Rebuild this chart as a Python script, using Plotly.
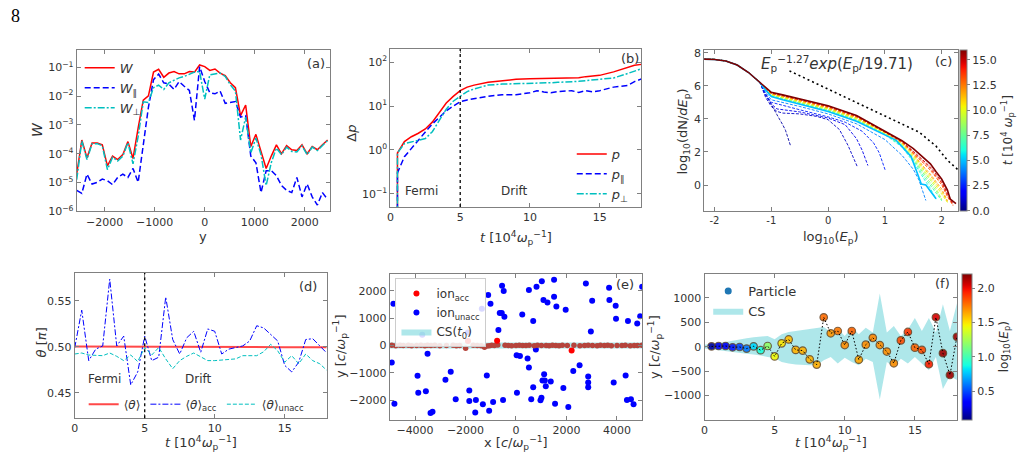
import plotly.graph_objects as go
import numpy as np

# ------------------------------------------------------------------ data
# (a) energy density profiles across the current sheet
A_Y = [-2560, -2458, -2355, -2253, -2150, -2048, -1946, -1843, -1741, -1638,
       -1536, -1434, -1331, -1229, -1126, -1024, -922, -819, -717, -614,
       -512, -410, -307, -205, -102, 0, 102, 205, 307, 410,
       512, 614, 717, 819, 922, 1024, 1126, 1229, 1331, 1434,
       1536, 1638, 1741, 1843, 1946, 2048, 2150, 2253, 2355, 2458]
W_TOT = [1.95e-5, 3.0e-4, 7.2e-5, 2.34e-4, 2.34e-4, 2.04e-4, 3.8e-5, 8.3e-5, 6.3e-5, 9.3e-5,
         2.63e-4, 6.9e-5, 7.9e-4, 7.2e-3, 1.02e-2, 6.8e-2, 8.5e-2, 4.5e-2, 6.3e-2, 7.1e-2,
         5.9e-2, 5.9e-2, 7.1e-2, 6.8e-2, 1.2e-1, 1.05e-1, 7.8e-2, 8.7e-2, 6.3e-2, 5.1e-2,
         2.9e-2, 1.95e-2, 2.1e-3, 4.9e-3, 1.78e-4, 4.7e-4, 1.2e-4, 3.1e-5, 8.3e-5, 2.04e-4,
         1.0e-4, 1.9e-4, 1.38e-4, 1.29e-4, 2.04e-4, 1.0e-4, 1.78e-4, 1.38e-4, 2.04e-4, 3.0e-4]
W_PAR = [5.4e-6, 4.2e-6, 1.95e-5, 8.9e-6, 1.02e-5, 1.32e-5, 1.17e-5, 8.5e-6, 1.51e-5, 1.95e-5,
         1.51e-5, 3.1e-5, 1.02e-5, 2.34e-4, 4.1e-3, 3.7e-2, 5.8e-2, 2.9e-2, 2.6e-2, 1.7e-2,
         3.2e-2, 2.2e-2, 1.58e-2, 1.45e-3, 1.05e-1, 3.2e-2, 1.32e-2, 1.2e-2, 1.5e-2, 5.6e-3,
         6.0e-3, 6.5e-3, 1.86e-3, 2.1e-3, 8.3e-5, 4.9e-5, 4.5e-6, 2.6e-5, 2.6e-5, 1.74e-5,
         7.9e-6, 5.4e-6, 4.5e-6, 1.51e-5, 3.2e-6, 8.9e-6, 3.2e-6, 1.66e-6, 4.5e-6, 2.6e-6]
W_PERP = [1.26e-5, 2.8e-4, 6.3e-5, 2.24e-4, 2.24e-4, 1.9e-4, 2.8e-5, 7.6e-5, 5.6e-5, 8.3e-5,
          2.4e-4, 4.5e-5, 4.0e-4, 6.3e-3, 6.0e-3, 1.95e-2, 2.4e-2, 1.7e-2, 2.9e-2, 3.5e-2,
          4.3e-2, 4.8e-2, 5.8e-2, 6.8e-2, 7.1e-2, 7.9e-3, 5.5e-2, 5.9e-2, 6.3e-2, 4.8e-2,
          2.5e-2, 1.5e-2, 3.0e-4, 1.86e-3, 1.07e-4, 3.5e-4, 9.3e-5, 7.9e-6, 4.9e-5, 1.58e-4,
          9.3e-5, 1.7e-4, 1.2e-4, 1.15e-4, 1.9e-4, 9.3e-5, 1.7e-4, 1.29e-4, 1.9e-4, 2.9e-4]

# (b) momentum gain
B_T = [0.5, 0.5, 1, 1.5, 2, 2.5, 3, 3.5, 4, 4.5, 5, 5.5, 6, 7, 8, 9, 10, 10.5, 11, 11.5,
       12, 13, 13.5, 14, 14.5, 15, 16, 17, 17.5, 18]
DP_TOT = [0.001, 0.85, 1.55, 2.0, 2.4, 3.0, 4.3, 7.1, 11.7, 16.6, 22.4, 27, 30, 34.7, 38, 40.7,
          41.7, 42, 42.3, 42.6, 42.7, 43.6, 44, 46.8, 48, 50, 60, 74, 85, 89]
DP_PAR = [0.001, 0.3, 0.7, 1.1, 1.66, 2.57, 3.9, 5.5, 7.8, 10, 12.6, 13.8, 14.8, 16.6, 18.2, 18.2,
          20, 22.4, 21, 20, 21.4, 22.4, 20.4, 22.4, 21, 22.4, 27, 29.5, 36, 41.7]
DP_PERP = [0.001, 0.85, 1.4, 1.55, 1.66, 1.82, 2.6, 4.7, 8.5, 12.9, 16.6, 21.4, 24.5, 30, 31.6, 32,
           32.4, 33, 33.5, 34, 34.7, 35.5, 36.5, 38, 39.5, 41.7, 43.6, 55, 63, 70.8]
T_SWITCH = 5

# (c) energy spectra log10(dN/dEp) vs log10(Ep)
CORE_X = [-2.2, -2.0, -1.8, -1.6, -1.4, -1.2]
CORE_Y = [7.61, 7.59, 7.5, 7.25, 6.8, 6.2]
EARLY_T = [0.5, 1.0, 1.5, 2.5, 4.0]
EARLY_X = [[-1.1, -1.0, -0.9, -0.8, -0.75, -0.66],
           [-1.1, -1.0, -0.9, -0.8, -0.5, -0.2, 0.0, 0.2, 0.35, 0.45, 0.51],
           [-1.1, -1.0, -0.9, -0.5, 0.0, 0.3, 0.5, 0.6, 0.7],
           [-1.1, -1.0, -0.5, 0.0, 0.3, 0.6, 0.8, 0.9, 1.01],
           [-1.1, -1.0, -0.5, 0.0, 0.5, 1.0, 1.3, 1.5, 1.6, 1.72]]
EARLY_Y = [[5.5, 4.85, 4.25, 3.65, 3.31, 2.36],
           [5.3, 4.75, 4.45, 4.35, 4.3, 4.15, 3.95, 3.35, 2.4, 1.6, 1.14],
           [5.4, 4.9, 4.6, 4.42, 4.05, 3.65, 2.8, 2.1, 1.18],
           [5.5, 5.0, 4.55, 4.12, 3.8, 3.25, 2.55, 1.95, 0.85],
           [5.6, 5.15, 4.75, 4.3, 3.7, 2.75, 1.8, 0.95, 0.3, -0.93]]
MID_T = 5.0
MID_X = [-1.1, -1.0, -0.8, -0.5, 0.0, 0.5, 1.0, 1.2, 1.46, 1.55, 1.64, 1.72, 1.81, 1.9]
MID_Y = [5.75, 5.35, 5.15, 4.9, 4.45, 3.85, 3.0, 2.7, 1.73, 0.94, 0.06, 0.0, -0.44, -0.83]
LATE_T = [6, 7, 8, 9, 10, 11, 12, 13, 14, 15]
TAIL_X = [-1.1, -1.0, -0.8, -0.5, 0.0, 0.5, 1.0, 1.3, 1.5, 1.7, 1.8, 1.9, 2.0, 2.1, 2.2]
LATE_Y = [[5.76, 5.38, 5.18, 4.93, 4.48, 3.88, 3.04, 2.3, 1.4, 0.3, -0.2, -0.85],
          [5.77, 5.41, 5.21, 4.96, 4.51, 3.92, 3.07, 2.36, 1.5, 0.45, -0.02, -0.55, -0.95],
          [5.78, 5.43, 5.24, 4.99, 4.54, 3.95, 3.1, 2.41, 1.58, 0.6, 0.15, -0.35, -0.9],
          [5.79, 5.46, 5.27, 5.02, 4.57, 3.99, 3.12, 2.46, 1.66, 0.72, 0.3, -0.2, -0.85],
          [5.80, 5.48, 5.3, 5.05, 4.61, 4.02, 3.15, 2.5, 1.74, 0.84, 0.43, -0.05, -0.55, -1.05],
          [5.81, 5.5, 5.33, 5.08, 4.64, 4.06, 3.17, 2.54, 1.82, 0.94, 0.55, 0.08, -0.4, -1.0],
          [5.82, 5.52, 5.36, 5.11, 4.67, 4.09, 3.19, 2.57, 1.88, 1.03, 0.66, 0.2, -0.25, -0.95],
          [5.83, 5.54, 5.39, 5.14, 4.71, 4.12, 3.21, 2.6, 1.94, 1.25, 0.9, 0.45, 0.0, -0.7, -1.25],
          [5.84, 5.56, 5.41, 5.16, 4.74, 4.15, 3.22, 2.63, 1.99, 1.35, 1.0, 0.55, 0.12, -0.6, -1.2],
          [5.85, 5.58, 5.43, 5.18, 4.77, 4.18, 3.24, 2.65, 2.04, 1.45, 1.1, 0.65, 0.22, -0.5, -1.15]]
FINAL_T = 16.0
FINAL_X = [-1.1, -1.0, -0.8, -0.5, 0.0, 0.5, 1.0, 1.3, 1.5, 1.7, 1.8, 1.9, 2.0, 2.1, 2.15, 2.25]
FINAL_Y = [5.87, 5.6, 5.45, 5.2, 4.79, 4.2, 3.25, 2.68, 2.2, 1.6, 1.28, 0.8, 0.35, -0.3, -0.85, -1.12]
FIT_X = [-0.68, -0.3, 0.1, 0.5, 0.9, 1.3, 1.6, 1.9, 2.1, 2.31]
FIT_Y = [6.9, 6.29, 5.64, 5.0, 4.36, 3.70, 3.2, 2.35, 1.5, 0.85]
T_CBAR_MAX = 16

# (d) pitch angles
D_T = [0, 0.5, 1, 1.5, 2, 2.5, 3, 3.5, 4, 4.5, 5, 5.5, 6, 6.5, 7, 7.5, 8, 8.5, 9, 9.5,
       10, 10.5, 11, 11.5, 12, 12.5, 13, 13.5, 14, 14.5, 15, 15.5, 16, 16.5, 17, 17.5, 18]
TH_MEAN = [0.5005, 0.5005, 0.5005, 0.5004, 0.5004, 0.5004, 0.5003, 0.5003, 0.5003, 0.5002,
           0.5002, 0.5002, 0.5001, 0.5001, 0.5001, 0.5000, 0.5000, 0.5000, 0.5000, 0.4999,
           0.4999, 0.4999, 0.4999, 0.4998, 0.4998, 0.4998, 0.4998, 0.4997, 0.4997, 0.4997,
           0.4997, 0.4996, 0.4996, 0.4996, 0.4996, 0.4995, 0.4995]
TH_ACC = [0.499, 0.540, 0.485, 0.4975, 0.501, 0.5738, 0.501, 0.5117, 0.4585, 0.4727,
          0.5117, 0.485, 0.4887, 0.5543, 0.508, 0.4922, 0.5099, 0.517, 0.494, 0.5195,
          0.517, 0.4922, 0.4975, 0.4993, 0.501, 0.5064, 0.523, 0.5206, 0.5135, 0.5064,
          0.4798, 0.4727, 0.4833, 0.508, 0.5089, 0.501, 0.4933]
TH_UNACC = [0.4922, 0.4933, 0.4911, 0.4904, 0.4904, 0.4933, 0.4897, 0.485, 0.4911, 0.484,
            0.4993, 0.4911, 0.4993, 0.4869, 0.4762, 0.485, 0.4897, 0.4933, 0.4887, 0.485,
            0.485, 0.4858, 0.4869, 0.4869, 0.4904, 0.4904, 0.4904, 0.4947, 0.5028, 0.4957,
            0.4833, 0.4904, 0.4816, 0.4922, 0.485, 0.4816, 0.4745]

# (e) initial ion positions
ACC_X = [-4921, -4764, -4593, -4462, -4265, -4134, -3937, -3766, -3609, -3504,
         -3373, -3215, -3018, -2756, -2493, -2362, -2231, -1995, -1693, -1535,
         -1378, -1247, -1142, -1050, -958, -853, -722, -433, -302, -171,
         0, 131, 262, 394, 525, 722, 853, 1010, 1194, 1312,
         1444, 1575, 1706, 1837, 2034, 2297, 2533, 2717, 2861, 3031,
         3215, 3346, 3504, 3635, 3780, 4003, 4199, 4331, 4528, 4685,
         4816, 4987]
ACC_Y = [10, -5, 15, 0, 12, -8, 5, 10, -3, 8,
         0, 12, -6, 5, 10, -4, 6, -100, 8, 0,
         -10, -60, -20, -5, 10, 5, 20, 12, 0, -8,
         5, 10, -2, 0, 8, -5, 15, 3, 0, -6,
         10, 5, -3, 8, 0, 12, -5, 6, 10, 0,
         -4, 8, 2, 12, -6, 5, 0, 10, -3, 6,
         2, 8]
ACC_OUT_X = [-1903, -748, 2205]
ACC_OUT_Y = [167, 179, -179]
UN_X = [-4856, -4921, -4816, -3714, -3504, -3871, -3570, -3386, -3307, -2795,
        -2585, -2388, -1903, -1850, -1850, -1588, -1614, -1352, -1312, -1155,
        -1102, -1010, -1063, -906, -696, -643, -564, -551, -486, -459,
        -512, 26, 157, 39, 249, 512, 512, 459, 682, 682,
        604, 814, 971, 1010, 1024, 1089, 1115, 1142, 1050, 1247,
        1181, 1378, 1509, 1509, 1548, 1601, 1877, 1969, 2073, 2270,
        2520, 2769, 2861, 2861, 2861, 2966, 3018, 3688, 3701, 3871,
        3950, 3963, 4344, 4396, 4436, 4554, 4659, 4803, 4921, 5000,
        787, -3900]
UN_Y = [1529, -621, -2127, 394, -299, -1732, -1673, -2473, -2425, -1254,
        -956, -1971, 478, -1649, -2031, -1995, -2449, 1350, -2151, -1099,
        1852, 1529, -2389, -2067, 573, 1195, 1195, 2186, 1995, 1051,
        -1995, -358, -382, -1732, 1135, 2031, -800, -478, 896, -1529,
        -1971, 2150, -2007, -1912, 2354, 1673, -1051, -1278, -1278, 1577,
        -1494, -1314, 2413, 1792, -2127, 1434, -1553, 1314, -2246, -932,
        -717, 2270, -1135, -1350, -1529, 514, 1637, 2115, 1673, -1350,
        1458, 980, -1099, -1995, 896, -1971, -2151, 812, 1075, 2150,
        -143, -1110]
CS0_X = [-5000, 5000]
CS0_HALF = 110

# (f) one particle trajectory and current-sheet extent
F_T = [0.5, 1, 1.5, 2, 2.5, 3, 3.5, 4, 4.5, 5, 5.5, 6, 6.5, 7, 7.5, 8, 8.5, 9,
       9.5, 10, 10.5, 11, 11.5, 12, 12.5, 13, 13.5, 14, 14.5, 15, 15.5, 16, 16.5, 17, 17.5, 18]
F_Y = [7, 13, 13, -13, -7, -40, 7, -73, 13, -200, 67, 147, -67, -80, -260, -367, 600, 273,
       320, 33, 320, -267, 40, 180, 33, -100, -340, 127, 300, -20, -67, -360, 600, -133, -580, 200]
F_LOGE = [0.15, 0.3, 0.3, 0.4, 0.5, 0.6, 0.8, 0.9, 1.2, 1.45, 1.5, 1.6, 1.62, 1.62, 1.62, 1.63, 1.78, 1.68,
          1.75, 1.7, 1.8, 1.65, 1.7, 1.72, 1.7, 1.7, 1.7, 1.85, 1.9, 1.8, 1.85, 1.95, 2.05, 2.15, 2.15, 2.15]
CS_T = [0, 0.5, 1, 1.5, 2, 2.5, 3, 3.5, 4, 4.5, 5, 5.5, 6, 6.5, 7, 7.5, 8, 8.5, 9, 9.5,
        10, 10.5, 11, 11.5, 12, 12.5, 13, 13.5, 14, 14.5, 15, 15.5, 16, 16.5, 17, 17.5, 18]
CS_UP = [40, 55, 67, 95, 120, 150, 173, 190, 200, 220, 153, 253, 300, 320, 333, 355, 373, 400, 300, 373,
         220, 400, 253, 387, 287, 1087, 287, 420, 220, 353, 587, 320, 587, 287, 867, 320, 887]
CS_LO = [-40, -60, -80, -97, -113, -130, -147, -163, -180, -213, -233, -313, -347, -365, -380, -380, -380,
         -280, -213, -347, -227, -313, -380, -247, -313, -1080, -313, -413, -247, -347, -213, -347, -480,
         -213, -867, -600, -680]
LOGE_RANGE = [0.09, 2.21]

# ------------------------------------------------------------------ helpers
FW, FH = 1018, 465
def px(x): return x / FW
def py(y): return 1 - y / FH

def jet(v):
    v = min(max(v, 0.0), 1.0)
    r = np.interp(v, [0, 0.35, 0.66, 0.89, 1], [0, 0, 1, 1, 0.5])
    g = np.interp(v, [0, 0.125, 0.375, 0.64, 0.91, 1], [0, 0, 1, 1, 0, 0])
    b = np.interp(v, [0, 0.11, 0.34, 0.65, 1], [0.5, 1, 1, 0, 0])
    return "rgb(%d,%d,%d)" % (round(r * 255), round(g * 255), round(b * 255))

JET = [[s, jet(s)] for s in np.linspace(0, 1, 41)]
FONT = "DejaVu Sans"
AXC = "#808080"
TXT = "#333333"
CYAN = "#00bfbf"
CSFILL = "rgba(120,215,220,0.6)"

def axstyle(**kw):
    d = dict(showline=True, linecolor=AXC, linewidth=1, mirror="ticks", ticks="inside",
             ticklen=4, tickwidth=1, tickcolor=AXC, showgrid=False, zeroline=False,
             tickfont=dict(family=FONT, size=11, color=TXT))
    d.update(kw)
    return d

fig = go.Figure()

# ---- (a)
fig.add_trace(go.Scatter(x=A_Y, y=W_TOT, mode="lines", line=dict(color="red", width=1.5),
                         name="<i>W</i>", xaxis="x", yaxis="y", legend="legend"))
fig.add_trace(go.Scatter(x=A_Y, y=W_PAR, mode="lines", line=dict(color="blue", width=1.5, dash="6px,3px"),
                         name="<i>W</i><sub>∥</sub>", xaxis="x", yaxis="y", legend="legend"))
fig.add_trace(go.Scatter(x=A_Y, y=W_PERP, mode="lines", line=dict(color=CYAN, width=1.5, dash="7px,2px,2px,2px"),
                         name="<i>W</i><sub>⊥</sub>", xaxis="x", yaxis="y", legend="legend"))

# ---- (b)
fig.add_trace(go.Scatter(x=B_T, y=DP_TOT, mode="lines", line=dict(color="red", width=1.5),
                         name="<i>p</i>", xaxis="x2", yaxis="y2", legend="legend2"))
fig.add_trace(go.Scatter(x=B_T, y=DP_PAR, mode="lines", line=dict(color="blue", width=1.5, dash="6px,3px"),
                         name="<i>p</i><sub>∥</sub>", xaxis="x2", yaxis="y2", legend="legend2"))
fig.add_trace(go.Scatter(x=B_T, y=DP_PERP, mode="lines", line=dict(color=CYAN, width=1.5, dash="7px,2px,2px,2px"),
                         name="<i>p</i><sub>⊥</sub>", xaxis="x2", yaxis="y2", legend="legend2"))

# ---- (c)
for t, xs, ys in zip(EARLY_T, EARLY_X, EARLY_Y):
    fig.add_trace(go.Scatter(x=CORE_X + xs, y=CORE_Y + ys, mode="lines",
                             line=dict(color=jet(t / T_CBAR_MAX), width=0.9, dash="3px,1.5px"),
                             showlegend=False, xaxis="x3", yaxis="y3"))
for t, ys in zip(LATE_T, LATE_Y):
    fig.add_trace(go.Scatter(x=CORE_X + TAIL_X[:len(ys)], y=CORE_Y + ys, mode="lines",
                             line=dict(color=jet(t / T_CBAR_MAX), width=0.9, dash="3px,1.5px"),
                             showlegend=False, xaxis="x3", yaxis="y3"))
fig.add_trace(go.Scatter(x=CORE_X + MID_X, y=CORE_Y + MID_Y, mode="lines",
                         line=dict(color=jet(MID_T / T_CBAR_MAX), width=1.6),
                         showlegend=False, xaxis="x3", yaxis="y3"))
fig.add_trace(go.Scatter(x=CORE_X + FINAL_X, y=CORE_Y + FINAL_Y, mode="lines",
                         line=dict(color=jet(FINAL_T / T_CBAR_MAX), width=1.6),
                         showlegend=False, xaxis="x3", yaxis="y3"))
fig.add_trace(go.Scatter(x=FIT_X, y=FIT_Y, mode="lines", line=dict(color="black", width=1.6, dash="2px,3px"),
                         showlegend=False, xaxis="x3", yaxis="y3"))
fig.add_trace(go.Scatter(x=[None], y=[None], mode="markers", showlegend=False, xaxis="x3", yaxis="y3",
                         marker=dict(color=[0], colorscale=JET, cmin=0, cmax=T_CBAR_MAX, showscale=True,
                                     colorbar=dict(x=px(960), xanchor="left", xpad=0, y=py(130), yanchor="middle",
                                                   len=164.6 / FH, lenmode="fraction", ypad=0, thickness=7,
                                                   outlinewidth=1, outlinecolor=AXC,
                                                   tickvals=[0, 2.5, 5, 7.5, 10, 12.5, 15],
                                                   ticktext=["0.0", "2.5", "5.0", "7.5", "10.0", "12.5", "15.0"],
                                                   ticks="outside", ticklen=3, tickcolor=AXC,
                                                   tickfont=dict(family=FONT, size=11, color=TXT),
                                                   title=dict(text="<i>t</i> [10<sup>4</sup> <i>ω</i><sub>p</sub><sup>−1</sup>]",
                                                              side="right", font=dict(family=FONT, size=12, color=TXT))))))

# ---- (d)
fig.add_trace(go.Scatter(x=D_T, y=TH_MEAN, mode="lines", line=dict(color="rgba(255,40,40,0.85)", width=2),
                         name="⟨<i>θ</i>⟩", xaxis="x4", yaxis="y4", legend="legend3"))
fig.add_trace(go.Scatter(x=D_T, y=TH_ACC, mode="lines", line=dict(color="blue", width=1, dash="6px,2px,2px,2px"),
                         name="⟨<i>θ</i>⟩<sub>acc</sub>", xaxis="x4", yaxis="y4", legend="legend3"))
fig.add_trace(go.Scatter(x=D_T, y=TH_UNACC, mode="lines", line=dict(color=CYAN, width=1, dash="4px,2px"),
                         name="⟨<i>θ</i>⟩<sub>unacc</sub>", xaxis="x4", yaxis="y4", legend="legend3"))

# ---- (e)
fig.add_trace(go.Scatter(x=[CS0_X[0], CS0_X[1], CS0_X[1], CS0_X[0], CS0_X[0]],
                         y=[-CS0_HALF, -CS0_HALF, CS0_HALF, CS0_HALF, -CS0_HALF],
                         mode="lines", fill="toself", fillcolor=CSFILL, line=dict(width=0, color=CSFILL),
                         name="CS(<i>t</i><sub>0</sub>)", xaxis="x5", yaxis="y5", legend="legend4", legendrank=3))
fig.add_trace(go.Scatter(x=UN_X, y=UN_Y, mode="markers", marker=dict(color="blue", size=6),
                         name="ion<sub>unacc</sub>", xaxis="x5", yaxis="y5", legend="legend4", legendrank=2))
fig.add_trace(go.Scatter(x=ACC_X, y=ACC_Y, mode="markers", marker=dict(color="#b5443c", size=5.5),
                         showlegend=False, xaxis="x5", yaxis="y5"))
fig.add_trace(go.Scatter(x=ACC_OUT_X, y=ACC_OUT_Y, mode="markers", marker=dict(color="red", size=6),
                         name="ion<sub>acc</sub>", xaxis="x5", yaxis="y5", legend="legend4", legendrank=1))

# ---- (f)
fig.add_trace(go.Scatter(x=[None], y=[None], mode="markers", marker=dict(color="#1f77b4", size=7),
                         name="Particle", xaxis="x6", yaxis="y6", legend="legend5", legendrank=1))
fig.add_trace(go.Scatter(x=CS_T, y=CS_LO, mode="lines", line=dict(width=0, color=CSFILL),
                         showlegend=False, xaxis="x6", yaxis="y6"))
fig.add_trace(go.Scatter(x=CS_T, y=CS_UP, mode="lines", line=dict(width=0, color=CSFILL), fill="tonexty",
                         fillcolor=CSFILL, name="CS", xaxis="x6", yaxis="y6", legend="legend5", legendrank=2))
fig.add_trace(go.Scatter(x=F_T, y=F_Y, mode="markers", showlegend=False, xaxis="x6", yaxis="y6",
                         marker=dict(size=7.5, color=F_LOGE, colorscale=JET, cmin=LOGE_RANGE[0], cmax=LOGE_RANGE[1],
                                     opacity=0.9,
                                     line=dict(width=1.2, color="rgba(90,60,30,0.85)"), showscale=True,
                                     colorbar=dict(x=px(962), xanchor="left", xpad=0, y=py(351.2), yanchor="middle",
                                                   len=149 / FH, lenmode="fraction", ypad=0, thickness=10,
                                                   outlinewidth=1, outlinecolor=AXC,
                                                   tickvals=[0.5, 1.0, 1.5, 2.0], ticktext=["0.5", "1.0", "1.5", "2.0"],
                                                   ticks="outside", ticklen=3, tickcolor=AXC,
                                                   tickfont=dict(family=FONT, size=11, color=TXT),
                                                   title=dict(text="log<sub>10</sub>(<i>E</i><sub>p</sub>)", side="right",
                                                              font=dict(family=FONT, size=12, color=TXT))))))
fig.add_trace(go.Scatter(x=[0] + F_T, y=[0] + F_Y, mode="lines", line=dict(color="black", width=1, dash="1.5px,2px"),
                         showlegend=False, xaxis="x6", yaxis="y6"))

# ------------------------------------------------------------------ layout
def sup(e):
    return "10<sup>%s</sup>" % e

lay = dict(
    width=FW, height=FH, margin=dict(l=0, r=0, t=0, b=0),
    paper_bgcolor="white", plot_bgcolor="white",
    font=dict(family=FONT, size=12, color=TXT),
    xaxis=axstyle(domain=[px(73), px(327)], range=[-2560, 2500], tickvals=[-2000, -1000, 0, 1000, 2000], anchor="y"),
    yaxis=axstyle(domain=[py(213), py(48)], type="log", range=[-6, -0.4], anchor="x",
                  tickvals=[1e-6, 1e-5, 1e-4, 1e-3, 1e-2, 1e-1],
                  ticktext=[sup("−6"), sup("−5"), sup("−4"), sup("−3"), sup("−2"), sup("−1")]),
    xaxis2=axstyle(domain=[px(388), px(640)], range=[0, 18], tickvals=[0, 5, 10, 15], anchor="y2"),
    yaxis2=axstyle(domain=[py(208.5), py(47)], type="log", range=[-1.3, 2.3], anchor="x2",
                   tickvals=[0.1, 1, 10, 100], ticktext=[sup("−1"), sup("0"), sup("1"), sup("2")]),
    xaxis3=axstyle(domain=[px(703), px(958)], range=[-2.18, 2.29], tickvals=[-2, -1, 0, 1, 2],
                   ticktext=["-2", "-1", "0", "1", "2"], anchor="y3",
                   tickfont=dict(family=FONT, size=10, color=TXT)),
    yaxis3=axstyle(domain=[py(212.3), py(47.7)], range=[-1.55, 8.18], tickvals=[0, 2, 4, 6, 8], anchor="x3"),
    xaxis4=axstyle(domain=[px(71), px(324)], range=[0, 18], tickvals=[0, 5, 10, 15], anchor="y4"),
    yaxis4=axstyle(domain=[py(424.3), py(276)], range=[0.4223, 0.5804], tickvals=[0.45, 0.5, 0.55],
                   ticktext=["0.45", "0.50", "0.55"], anchor="x4"),
    xaxis5=axstyle(domain=[px(387.3), px(640.7)], range=[-5000, 5000], tickvals=[-4000, -2000, 0, 2000, 4000], anchor="y5"),
    yaxis5=axstyle(domain=[py(425.7), py(276.7)], range=[-2710, 2630], tickvals=[-2000, -1000, 0, 1000, 2000], anchor="x5"),
    xaxis6=axstyle(domain=[px(703.3), px(956.7)], range=[0, 18], tickvals=[0, 5, 10, 15], anchor="y6"),
    yaxis6=axstyle(domain=[py(425.7), py(276.7)], range=[-1490, 1490], tickvals=[-1000, -500, 0, 500, 1000], anchor="x6"),
    legend=dict(x=px(76), y=py(51), xanchor="left", yanchor="top", bgcolor="rgba(0,0,0,0)",
                font=dict(family=FONT, size=13, color=TXT), itemwidth=30, tracegroupgap=0),
    legend2=dict(x=px(570), y=py(139), xanchor="left", yanchor="top", bgcolor="rgba(0,0,0,0)",
                 font=dict(family=FONT, size=13, color=TXT), itemwidth=30, tracegroupgap=0),
    legend3=dict(x=px(80), y=py(410), xanchor="left", yanchor="middle", orientation="h", bgcolor="rgba(0,0,0,0)",
                 font=dict(family=FONT, size=12, color=TXT), itemwidth=30),
    legend4=dict(x=px(393), y=py(281), xanchor="left", yanchor="top", bgcolor="rgba(255,255,255,0.85)",
                 bordercolor="#cccccc", borderwidth=1, font=dict(family=FONT, size=12, color=TXT),
                 itemwidth=30, tracegroupgap=0, traceorder="normal"),
    legend5=dict(x=px(707), y=py(279), xanchor="left", yanchor="top", bgcolor="rgba(0,0,0,0)",
                 font=dict(family=FONT, size=13, color=TXT), itemwidth=30, tracegroupgap=0, traceorder="normal"),
)
fig.update_layout(**lay)

# vertical Fermi/Drift separators
for xr, yr in [("x2", "y2 domain"), ("x4", "y4 domain")]:
    fig.add_shape(type="line", xref=xr, yref=yr, x0=T_SWITCH, x1=T_SWITCH, y0=0, y1=1,
                  line=dict(color="black", width=1.3, dash="dot"))

ann = []
def A(text, x, y, size=12, angle=0, xref="paper", yref="paper", **kw):
    d = dict(text=text, x=x, y=y, xref=xref, yref=yref, showarrow=False, textangle=angle,
             font=dict(family=FONT, size=size, color=TXT), xanchor="center", yanchor="middle")
    d.update(kw)
    ann.append(d)

# axis titles
A("<i>W</i>", px(33), py(129), 14, -90)
A("y", px(200), py(239), 13)
A("Δ<i>p</i>", px(349), py(133), 13, -90)
A("<i>t</i> [10<sup>4</sup><i>ω</i><sub>p</sub><sup>−1</sup>]", px(514), py(240), 13)
A("log<sub>10</sub>(dN/<i>dE</i><sub>p</sub>)", px(682), py(131), 13, -90)
A("log<sub>10</sub>(<i>E</i><sub>p</sub>)", px(830), py(240), 13)
A("<i>θ</i> [<i>π</i>]", px(38), py(347), 13, -90)
A("<i>t</i> [10<sup>4</sup><i>ω</i><sub>p</sub><sup>−1</sup>]", px(198), py(450), 13)
A("y [<i>c</i>/<i>ω</i><sub>p</sub><sup>−1</sup>]", px(338), py(351), 13, -90)
A("x [<i>c</i>/<i>ω</i><sub>p</sub><sup>−1</sup>]", px(514), py(450), 13)
A("y [<i>c</i>/<i>ω</i><sub>p</sub><sup>−1</sup>]", px(654), py(351), 13, -90)
A("<i>t</i> [10<sup>4</sup><i>ω</i><sub>p</sub><sup>−1</sup>]", px(830), py(450), 13)
# panel labels
A("(a)", px(313), py(62), 13)
A("(b)", px(628), py(57), 13)
A("(c)", px(943), py(60), 13)
A("(d)", px(305), py(290), 13)
A("(e)", px(623), py(288), 13)
A("(f)", px(942), py(287), 13)
# in-panel texts
A("Fermi", 2.2, -0.93, 12, xref="x2", yref="y2")
A("Drift", 8.9, -0.93, 12, xref="x2", yref="y2")
A("Fermi", 2.15, 0.4646, 12, xref="x4", yref="y4")
A("Drift", 8.85, 0.4646, 12, xref="x4", yref="y4")
A("<i>E</i><sub>p</sub><sup>−1.27</sup><i>exp</i>(<i>E</i><sub>p</sub>/19.71)", px(836), py(62), 15)
# page number
ann.append(dict(text="8", x=px(12), y=py(13), xref="paper", yref="paper", showarrow=False,
                font=dict(family="Liberation Serif", size=18, color="black"), xanchor="center", yanchor="middle"))
fig.update_layout(annotations=ann)

fig.write_html("out.html")
